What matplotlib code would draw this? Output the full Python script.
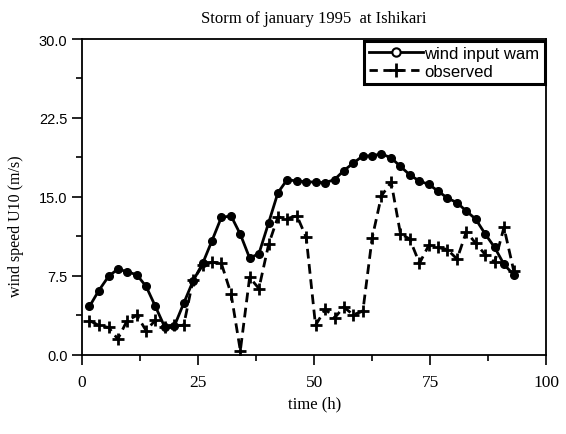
import matplotlib
matplotlib.use('Agg')
import matplotlib.pyplot as plt
from matplotlib.lines import Line2D
from matplotlib.ticker import MultipleLocator

# time of each record (hours)
hours = [1.6, 3.6, 5.7, 7.7, 9.7, 11.8, 13.8, 15.8, 17.8, 19.9,
         21.9, 23.9, 26.0, 28.0, 30.0, 32.1, 34.1, 36.1, 38.1, 40.2,
         42.2, 44.2, 46.3, 48.3, 50.3, 52.4, 54.4, 56.4, 58.4, 60.5,
         62.5, 64.5, 66.6, 68.6, 70.6, 72.7, 74.7, 76.7, 78.7, 80.8,
         82.8, 84.8, 86.9, 88.9, 90.9, 93.0]

# wind input used by WAM (m/s)
wam = [4.6, 6.1, 7.45, 8.15, 7.9, 7.6, 6.5, 4.6, 2.65, 2.75,
       4.9, 7.0, 8.7, 10.85, 13.05, 13.2, 11.45, 9.2, 9.6, 12.55,
       15.4, 16.65, 16.5, 16.45, 16.4, 16.35, 16.65, 17.5, 18.2, 18.9,
       18.9, 19.1, 18.7, 17.9, 17.1, 16.5, 16.2, 15.55, 14.9, 14.45,
       13.65, 12.9, 11.45, 10.2, 8.6, 7.6]

# observed wind speed (m/s)
observed = [3.25, 2.8, 2.6, 1.5, 3.25, 3.75, 2.3, 3.3, 2.6, 2.8,
            2.8, 7.1, 8.5, 8.8, 8.7, 5.8, 0.4, 7.35, 6.3, 10.5,
            13.1, 12.95, 13.2, 11.15, 2.8, 4.35, 3.5, 4.55, 3.8, 4.15,
            11.1, 15.1, 16.4, 11.5, 11.0, 8.7, 10.4, 10.2, 10.0, 9.1,
            11.7, 10.6, 9.5, 8.8, 12.1, 8.0]

serif = 'Liberation Serif'
sans = 'Liberation Sans'

fig = plt.figure(figsize=(5.66, 4.35), dpi=100)
ax = fig.add_axes([0.145, 0.182, 0.82, 0.726])

ax.plot(hours, wam, color='black', lw=2, marker='o', ms=5.5, zorder=3)
ax.plot(hours, observed, color='black', lw=2, ls=(0, (3.5, 2)),
        marker='+', ms=9, mew=2, zorder=2)

ax.set_xlim(0, 100)
ax.set_ylim(0, 30)
ax.xaxis.set_major_locator(MultipleLocator(25))
ax.xaxis.set_minor_locator(MultipleLocator(12.5))
ax.yaxis.set_major_locator(MultipleLocator(7.5))
ax.yaxis.set_minor_locator(MultipleLocator(3.75))
ax.yaxis.set_major_formatter(matplotlib.ticker.FormatStrFormatter('%.1f'))
ax.tick_params(which='major', length=7, width=1.2, direction='out')
ax.tick_params(which='minor', length=4, width=1.2, direction='out')
ax.tick_params(axis='x', pad=7)
for lab in ax.get_xticklabels():
    lab.set_fontfamily(serif)
    lab.set_fontsize(12.5)
for lab in ax.get_yticklabels():
    lab.set_fontfamily(sans)
    lab.set_fontsize(10.5)
for sp in ax.spines.values():
    sp.set_linewidth(1.3)

ax.set_title('Storm of january 1995  at Ishikari', family=serif, fontsize=12, pad=12)
ax.set_xlabel('time (h)', family=serif, fontsize=12)
ax.xaxis.set_label_coords(0.5, -0.13)
ax.set_ylabel('wind speed U10 (m/s)', family=serif, fontsize=11.5)
ax.yaxis.set_label_coords(-0.125, 0.41)

handles = [
    Line2D([], [], color='black', lw=2, marker='o', ms=6, mfc='white', mew=1.5),
    Line2D([], [], color='black', lw=2, ls=(0, (3, 2)), marker='+', ms=10, mew=2),
]
leg = ax.legend(handles, ['wind input wam', 'observed'], loc='upper right',
                prop={'family': sans, 'size': 12}, frameon=True, fancybox=False,
                framealpha=1, edgecolor='black', borderaxespad=0.1,
                handlelength=3.2, handletextpad=0.1, borderpad=0.3,
                labelspacing=0.2)
leg.get_frame().set_linewidth(2.2)

fig.savefig('out.png', dpi=100)
